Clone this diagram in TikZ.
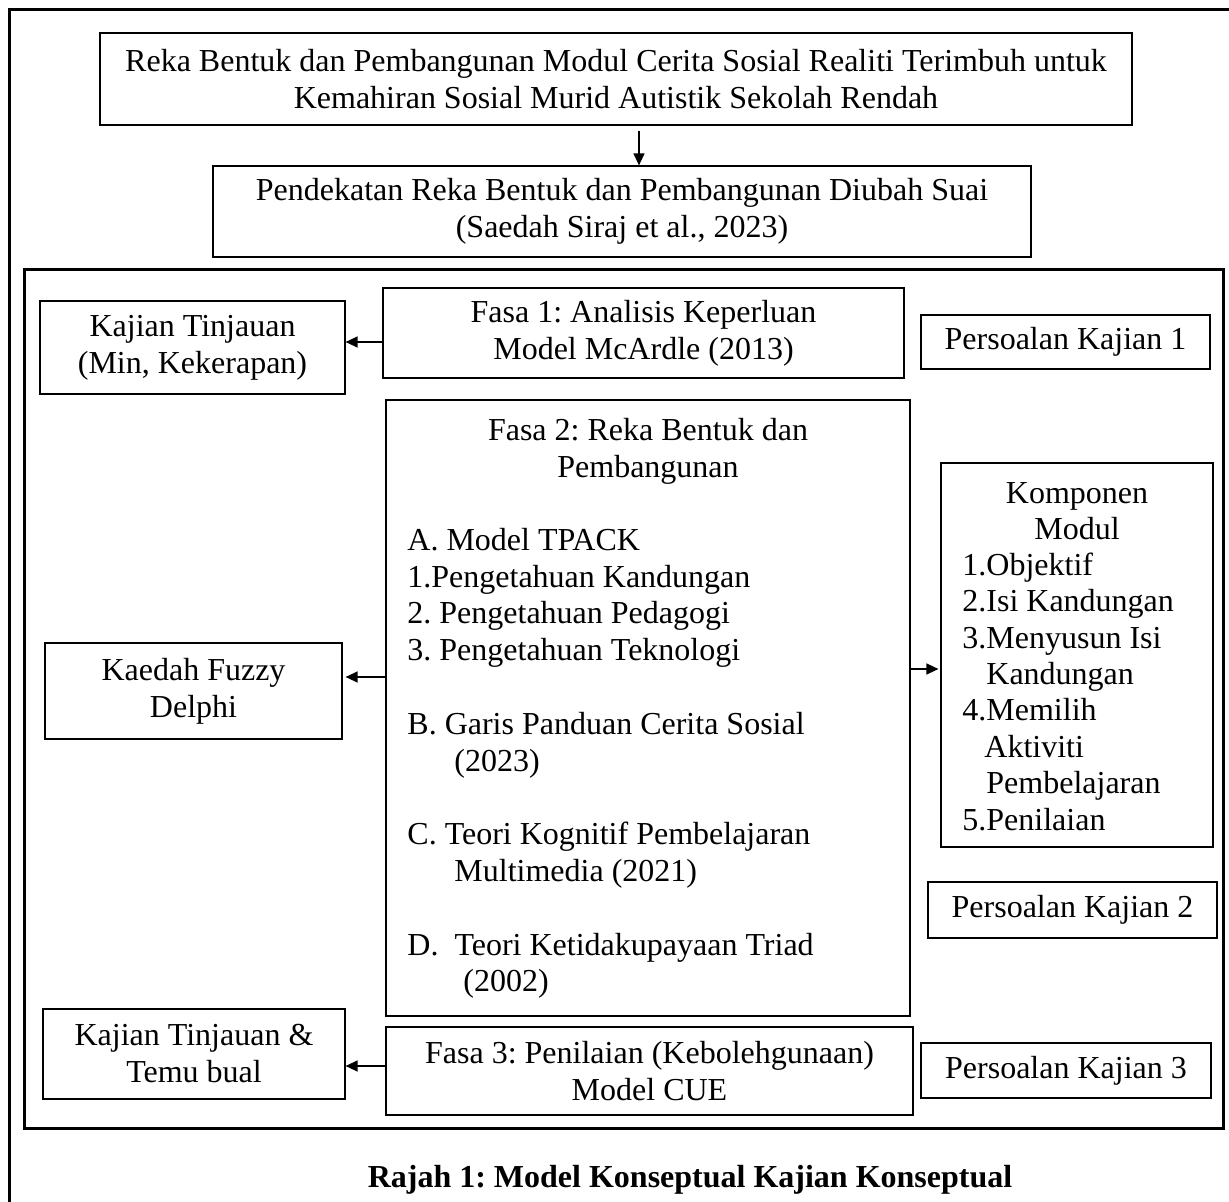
\documentclass[tikz,border=0pt]{standalone}
\usepackage{fontspec}
\setmainfont{Liberation Serif}
\usetikzlibrary{arrows.meta}
\frenchspacing
\newcommand\fs{\fontsize{16}{18.5}\selectfont}
\newcommand\fsl{\fontsize{16}{18.4}\selectfont}
\newcommand\fsk{\fontsize{16}{18.2}\selectfont}
\tikzset{
  bx/.style={draw, line width=0.6pt, inner sep=0pt, align=center, font=\fs},
  arr/.style={-{Triangle[length=6pt,width=5.5pt]}, line width=0.7pt},
  framebox/.style={line width=1.5pt},
  txt/.style={inner sep=0pt}
}
\begin{document}
\begin{tikzpicture}[x=0.5pt,y=-0.5pt]
\useasboundingbox (0,0) rectangle (1229,1202);
\fill[white] (0,0) rectangle (1229,1202);
\begin{scope}
  \clip (0,0) rectangle (1229,1202);
  \draw[framebox] (9,10) rectangle (1245,1220);
\end{scope}
\draw[framebox] (24,270) rectangle (1223,1128);

% top boxes
\node[bx, minimum width=516pt, minimum height=46pt] (top) at (616,79)
  {Reka Bentuk dan Pembangunan Modul Cerita Sosial Realiti Terimbuh untuk\\Kemahiran Sosial Murid Autistik Sekolah Rendah};
\node[bx, minimum width=409pt, minimum height=45.5pt] (app) at (622,211.5)
  {Pendekatan Reka Bentuk dan Pembangunan Diubah Suai\\(Saedah Siraj et al., 2023)};

% left column
\node[bx, minimum width=152.5pt, minimum height=46.5pt] (kt1) at (192.5,347.5)
  {Kajian Tinjauan\\(Min, Kekerapan)};
\node[bx, minimum width=148.5pt, minimum height=48pt] (kfd) at (193.5,691)
  {Kaedah Fuzzy\\Delphi};
\node[bx, minimum width=151pt, minimum height=45pt] (kt2) at (194,1054)
  {Kajian Tinjauan \&\\Temu bual};

% middle column
\node[bx, minimum width=260.5pt, minimum height=45pt] (f1) at (643.5,333)
  {Fasa 1: Analisis Keperluan\\Model McArdle (2013)};
\node[bx, minimum width=262pt, minimum height=308pt] (f2) at (648,708) {};
\node[txt, anchor=north, align=center, font=\fsl] (f2title) at (648,414.2)
  {\strut Fasa 2: Reka Bentuk dan\\Pembangunan};
\node[txt, anchor=north west, align=left, font=\fsl] (f2list) at (407,524.2)
  {\strut A. Model TPACK\\
   1.Pengetahuan Kandungan\\
   2. Pengetahuan Pedagogi\\
   3. Pengetahuan Teknologi\\[18.4pt]
   B. Garis Panduan Cerita Sosial\\
   \hspace*{23.5pt}(2023)\\[18.4pt]
   C. Teori Kognitif Pembelajaran\\
   \hspace*{23.5pt}Multimedia (2021)\\[18.4pt]
   D.\ \ Teori Ketidakupayaan Triad\\
   \hspace*{28pt}(2002)};
\node[bx, minimum width=263.5pt, minimum height=44pt] (f3) at (649.5,1071)
  {Fasa 3: Penilaian (Kebolehgunaan)\\Model CUE};

% right column
\node[bx, minimum width=144.5pt, minimum height=27pt] (pk1) at (1065.5,342)
  {Persoalan Kajian 1};
\node[bx, minimum width=136pt, minimum height=192pt] (km) at (1077,655) {};
\node[txt, anchor=north, align=center, font=\fsk] (kmtitle) at (1077,477.5)
  {\strut Komponen\\Modul};
\node[txt, anchor=north west, align=left, font=\fsk] (kmlist) at (962,549.5)
  {\strut 1.Objektif\\
   2.Isi Kandungan\\
   3.Menyusun Isi\\
   \hspace*{12pt}Kandungan\\
   4.Memilih\\
   \hspace*{11pt}Aktiviti\\
   \hspace*{12pt}Pembelajaran\\
   5.Penilaian};
\node[bx, minimum width=144.5pt, minimum height=28pt] (pk2) at (1072.5,910)
  {Persoalan Kajian 2};
\node[bx, minimum width=145pt, minimum height=27.5pt] (pk3) at (1066,1070.5)
  {Persoalan Kajian 3};

% caption
\node[txt, anchor=base, font=\fs\bfseries] (cap) at (690,1187)
  {Rajah 1: Model Konseptual Kajian Konseptual};

% connectors
\coordinate (ax) at (639,0);
\coordinate (y1) at (0,342);
\coordinate (y2) at (0,677);
\coordinate (y3) at (0,669);
\coordinate (y4) at (0,1066);
\draw[arr, shorten <=2.5pt] (top.south -| ax) -- (app.north -| ax);
\draw[arr] (f1.west |- y1) -- (kt1.east |- y1);
\draw[arr, shorten >=1.5pt] (f2.west |- y2) -- (kfd.east |- y2);
\draw[arr, shorten >=1pt] (f2.east |- y3) -- (km.west |- y3);
\draw[arr] (f3.west |- y4) -- (kt2.east |- y4);
\end{tikzpicture}
\end{document}
